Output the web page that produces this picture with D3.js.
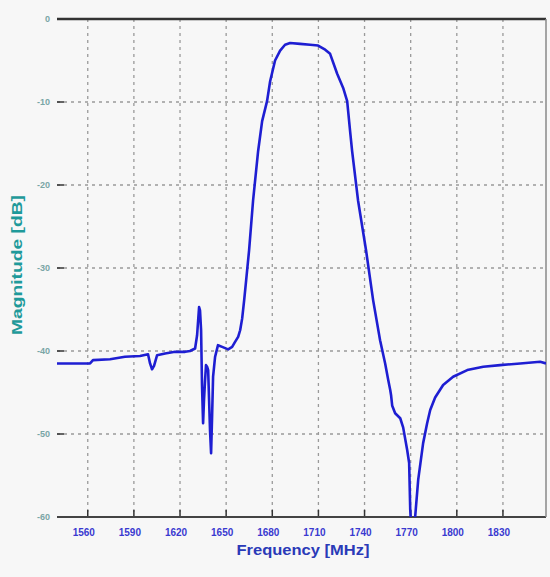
<!DOCTYPE html>
<html lang='en'>
<head>
  <meta charset='UTF-8'>
  <title>Filter response</title>
  <script src='https://d3js.org/d3.v7.min.js'></script>
  <style>
    html, body { margin: 0; padding: 0; background: #f7f7f7; }
    #main { width: 550px; height: 577px; }
  </style>
</head>
<body>
<div id='main'></div>
<script>
  const freq = [1540, 1561.5, 1563.4, 1574.5, 1584.2, 1594, 1599.2, 1600.5, 1601.8, 1603.1,
    1605.1, 1610.3, 1616.8, 1623.3, 1626.5, 1629.8, 1631.1, 1632.4, 1633, 1633.7,
    1634.3, 1635, 1635.6, 1636.3, 1636.9, 1637.6, 1638.3, 1638.9, 1639.5, 1640.2,
    1640.8, 1641.5, 1642.8, 1644.7, 1647.4, 1651.3, 1653.9, 1655.8, 1657.8, 1659.1,
    1660.4, 1661.7, 1663, 1664.9, 1667.5, 1670.8, 1673.4, 1676.6, 1678.6, 1681.8,
    1685.1, 1688.3, 1691.6, 1698.1, 1704.6, 1709.8, 1714.4, 1717.6, 1722.2, 1726.1,
    1728.7, 1730.6, 1731.9, 1735.8, 1741, 1745.6, 1750.1, 1753.4, 1755.4, 1756.7,
    1757.3, 1758, 1759.9, 1763.2, 1765.1, 1767.7, 1769, 1769.7, 1770.3, 1772.3,
    1772.9, 1774.9, 1778.1, 1780.7, 1782.7, 1785.9, 1791.1, 1797.6, 1806.8, 1817.2,
    1828.2, 1841.2, 1854.2, 1858]
  const magnitude = [-41.5, -41.5, -41.1, -41.0, -40.7, -40.6, -40.4, -41.5, -42.2, -41.8,
    -40.5, -40.3, -40.1, -40.1, -40.0, -39.7, -38.1, -34.7, -35.1, -37.5,
    -44.1, -48.7, -45.9, -43.5, -41.7, -41.9, -42.3, -45.9, -49.5, -52.3,
    -48.3, -43.1, -40.7, -39.3, -39.5, -39.8, -39.5, -38.9, -38.3, -37.5,
    -36.1, -33.9, -31.5, -27.9, -21.9, -15.9, -12.3, -9.9, -7.5, -5.0,
    -3.8, -3.1, -2.9, -3.0, -3.1, -3.2, -3.7, -4.2, -6.6, -8.3,
    -9.9, -13.5, -15.9, -21.9, -27.9, -33.9, -38.7, -41.5, -43.5, -44.7,
    -45.4, -46.6, -47.5, -48.1, -49.2, -51.9, -53.5, -59.1, -61, -61,
    -60, -55.5, -51.1, -48.7, -47.1, -45.6, -44.1, -43.1, -42.3, -41.9,
    -41.7, -41.5, -41.3, -41.5]
  const xTicks = [1560, 1590, 1620, 1650, 1680, 1710, 1740, 1770, 1800, 1830]
  const yTicks = [0, -10, -20, -30, -40, -50, -60]

  const width = 550
  const height = 577
  const margin = {top: 19, right: 4, bottom: 60, left: 57}
  const innerW = width - margin.left - margin.right
  const innerH = height - margin.top - margin.bottom

  const svg = d3.select('#main').append('svg')
    .attr('width', width)
    .attr('height', height)

  const x = d3.scaleLinear().domain([1540, 1858]).range([0, innerW])
  const y = d3.scaleLinear().domain([-60, 0]).range([innerH, 0])

  const g = svg.append('g')
    .attr('transform', `translate(${margin.left}, ${margin.top})`)

  // clip so the notch runs off the bottom
  g.append('clipPath').attr('id', 'plotClip')
    .append('rect').attr('width', innerW).attr('height', innerH)

  // grid
  g.append('g')
    .selectAll('line')
    .data(xTicks)
    .enter().append('line')
    .attr('x1', d => x(d)).attr('x2', d => x(d))
    .attr('y1', 0).attr('y2', innerH)
    .style('stroke', '#9a9a9a')
    .style('stroke-width', 1.3)
    .style('stroke-dasharray', '3,4')

  g.append('g')
    .selectAll('line')
    .data(yTicks.slice(1, -1))
    .enter().append('line')
    .attr('x1', 0).attr('x2', innerW)
    .attr('y1', d => y(d)).attr('y2', d => y(d))
    .style('stroke', '#9a9a9a')
    .style('stroke-width', 1.3)
    .style('stroke-dasharray', '3,4')

  // short dark tick marks inside the frame
  g.append('g').selectAll('line')
    .data(yTicks.slice(1, -1))
    .enter().append('line')
    .attr('x1', 0).attr('x2', 7)
    .attr('y1', d => y(d)).attr('y2', d => y(d))
    .style('stroke', '#333')
    .style('stroke-width', 1.5)

  g.append('g').selectAll('line')
    .data(xTicks)
    .enter().append('line')
    .attr('x1', d => x(d)).attr('x2', d => x(d))
    .attr('y1', innerH).attr('y2', innerH - 7)
    .style('stroke', '#333')
    .style('stroke-width', 1.5)

  // frame: dark top and bottom, light right edge
  g.append('line').attr('x1', 0).attr('x2', innerW).attr('y1', 0).attr('y2', 0)
    .style('stroke', '#333').style('stroke-width', 2.5)
  g.append('line').attr('x1', 0).attr('x2', innerW).attr('y1', innerH).attr('y2', innerH)
    .style('stroke', '#444').style('stroke-width', 2)
  g.append('line').attr('x1', innerW).attr('x2', innerW).attr('y1', 0).attr('y2', innerH)
    .style('stroke', '#888').style('stroke-width', 1.5)

  // curve
  const points = freq.map((f, i) => [f, magnitude[i]])
  const line = d3.line().x(d => x(d[0])).y(d => y(d[1]))
  g.append('path')
    .datum(points)
    .attr('clip-path', 'url(#plotClip)')
    .attr('d', line)
    .style('fill', 'none')
    .style('stroke', '#1e1ed2')
    .style('stroke-width', 2.6)
    .style('stroke-linejoin', 'round')

  // tick labels
  g.append('g').selectAll('text')
    .data(yTicks)
    .enter().append('text')
    .attr('x', -7)
    .attr('y', d => y(d) + 3)
    .attr('text-anchor', 'end')
    .style('font-family', 'Arial, "Liberation Sans", sans-serif')
    .style('font-size', '9px')
    .style('font-weight', 'bold')
    .style('fill', '#7aa6a6')
    .text(d => d)

  g.append('g').selectAll('text')
    .data(xTicks)
    .enter().append('text')
    .attr('x', d => x(d) - 4)
    .attr('y', innerH + 19)
    .attr('text-anchor', 'middle')
    .style('font-family', 'Arial, "Liberation Sans", sans-serif')
    .style('font-size', '10px')
    .style('font-weight', 'bold')
    .style('fill', '#3a3ad0')
    .text(d => d)

  // axis titles
  svg.append('text')
    .attr('x', 303)
    .attr('y', 555)
    .attr('text-anchor', 'middle')
    .attr('textLength', 133)
    .attr('lengthAdjust', 'spacingAndGlyphs')
    .style('font-family', 'Arial, "Liberation Sans", sans-serif')
    .style('font-size', '15px')
    .style('font-weight', 'bold')
    .style('fill', '#2a3ab8')
    .text('Frequency [MHz]')

  svg.append('text')
    .attr('transform', 'translate(22, 265) rotate(-90)')
    .attr('text-anchor', 'middle')
    .attr('textLength', 140)
    .attr('lengthAdjust', 'spacingAndGlyphs')
    .style('font-family', 'Arial, "Liberation Sans", sans-serif')
    .style('font-size', '15px')
    .style('font-weight', 'bold')
    .style('fill', '#1f9a9a')
    .text('Magnitude [dB]')
</script>
</body>
</html>
